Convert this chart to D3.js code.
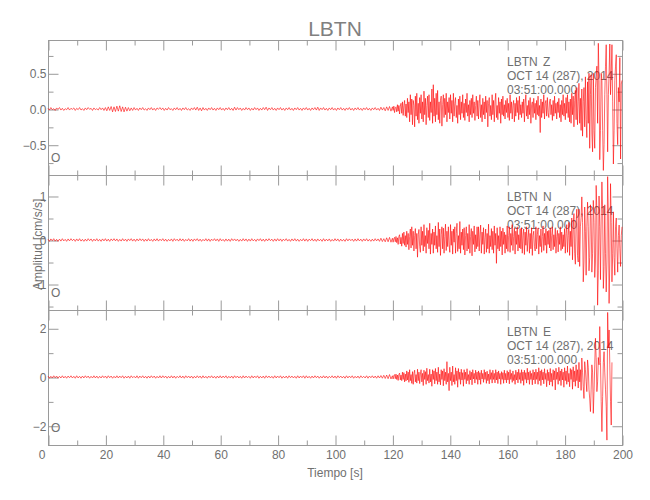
<!DOCTYPE html>
<html><head><meta charset="utf-8">
<script src="https://cdn.jsdelivr.net/npm/d3@7"></script>
<style>
body{margin:0;background:#fff;}
svg text{font-family:"Liberation Sans",Arial,sans-serif;fill:#707070;}
</style></head><body>
<svg id="chart" width="650" height="500"></svg>
<script>
// ---------------- data ----------------
const station = "LBTN";
const components = ["Z", "N", "E"];
const dateLabel = "OCT 14 (287), 2014";
const timeLabel = "03:51:00.000";
const markerLabel = "O";
const xTitle = "Tiempo [s]";
const yTitle = "Amplitud [cm/s/s]";

// pre-event samples: every 0.5 s from 0 s; event samples: every 0.25 s from 120 s
const quietStep = 0.5;
const activeStart = 120;
const activeStep = 0.25;

const timeTicks = [0, 20, 40, 60, 80, 100, 120, 140, 160, 180, 200];
const timeMinorTicks = [10, 30, 50, 70, 90, 110, 130, 150, 170, 190];
const timeDomain = [0, 200];

const yTicksZ = [-0.5, 0, 0.5];
const yMinorZ = [-0.75, -0.25, 0.25, 0.75];
const yDomainZ = [-0.924, 0.966];
const yTicksN = [-1, 0, 1];
const yMinorN = [-1.5, -0.5, 0.5];
const yDomainN = [-1.59, 1.477];
const yTicksE = [-2, 0, 2];
const yMinorE = [-1, 1];
const yDomainE = [-2.79, 2.75];

const quietZ = [
 .01,-.015,.02,-.01,.005,-.02,.015,-.005,.02,-.015,.01,-.02,.005,-.01,.02,-.015,.01,-.005,.015,-.02,
 .01,-.01,.02,-.015,.005,-.02,.015,-.01,.02,-.005,.01,-.02,.015,-.01,.005,-.015,.02,-.01,.015,-.02,
 .02,-.025,.03,-.02,.035,-.04,.03,-.035,.04,-.03,.045,-.035,.03,-.04,.025,-.03,.02,-.025,.015,-.02,
 .02,-.015,.01,-.02,.015,-.01,.02,-.015,.005,-.02,.015,-.01,.02,-.015,.01,-.02,.015,-.005,.02,-.01,
 .015,-.02,.01,-.015,.02,-.01,.005,-.02,.015,-.01,.02,-.015,.01,-.02,.015,-.01,.02,-.015,.005,-.02,
 .015,-.01,.02,-.015,.025,-.02,.015,-.025,.02,-.015,.01,-.02,.015,-.01,.02,-.015,.01,-.02,.015,-.01,
 .02,-.015,.01,-.02,.015,-.01,.02,-.015,.01,-.02,.025,-.015,.02,-.01,.015,-.02,.01,-.015,.02,-.01,
 .015,-.02,.01,-.015,.02,-.01,.015,-.02,.01,-.015,.02,-.01,.025,-.02,.015,-.01,.02,-.015,.01,-.02,
 .015,-.01,.02,-.015,.01,-.02,.015,-.01,.02,-.015,.01,-.02,.015,-.01,.02,-.015,.01,-.02,.015,-.01,
 .02,-.015,.01,-.02,.015,-.01,.02,-.015,.025,-.02,.015,-.01,.02,-.015,.01,-.02,.015,-.01,.02,-.015,
 .01,-.02,.015,-.01,.02,-.015,.01,-.02,.015,-.01,.02,-.015,.01,-.02,.015,-.01,.02,-.015,.01,-.02,
 .015,-.01,.02,-.015,.01,-.02,.015,-.01,.02,-.015,.01,-.02,.025,-.015,.02,-.025,.03,-.02,.035,-.03
];
const activeZ = [
 .03,-.02,.04,-.05,.02,.03,-.04,.06,-.03,.05,-.07,.04,.08,-.06,.1,-.09,.05,.12,-.1,.07,
 -.12,.15,-.05,.1,-.18,.2,-.08,.14,-.22,.12,.05,-.25,.18,-.1,.22,-.15,.08,-.2,.16,-.06,
 .2,-.14,.1,-.18,.25,-.08,.15,-.22,.05,.18,-.12,.2,-.16,.1,-.05,.28,-.2,.34,-.1,.15,
 -.18,.22,-.08,.26,-.15,.1,-.2,.12,.18,-.24,.06,.2,-.12,.15,-.08,.22,-.18,.1,-.05,.16,
 -.14,.2,-.06,.12,-.18,.22,-.1,.08,.16,-.12,.05,-.2,.14,-.08,.18,-.15,.1,-.06,.2,-.12,
 .08,-.16,.14,-.05,.22,-.1,.06,-.18,.12,-.08,.15,-.12,.2,-.06,.1,-.16,.05,.18,-.1,.12,
 -.14,.08,.2,-.12,.06,-.18,.15,-.08,.1,-.14,.18,-.05,.12,-.25,.08,.16,-.1,.05,-.15,.2,
 -.08,.12,-.18,.1,.22,-.12,.05,-.15,.16,-.06,.1,-.2,.14,-.08,.18,-.1,.06,-.14,.12,-.05,
 .15,-.12,.08,-.16,.2,-.06,.1,-.14,.05,.12,-.18,.08,-.1,.16,-.05,.12,-.15,.18,-.08,.06,
 -.12,.1,-.06,.14,-.18,.08,.2,-.1,.05,-.14,.12,-.08,.16,-.2,.06,.1,-.12,.15,-.06,.08,
 -.15,.12,-.08,.18,-.1,.05,-.33,.14,-.12,.1,-.06,.2,-.14,.08,.12,-.1,.16,-.05,-.12,.1,
 .14,-.08,.06,-.16,.12,-.1,.18,-.06,.08,-.14,.1,-.05,.15,-.12,.06,-.18,.12,-.08,.2,-.1,
 .08,-.15,.16,-.06,.2,-.12,.1,-.18,.14,-.2,.22,-.08,.18,-.25,.12,.26,-.15,.3,-.22,.1,
 .36,-.2,.15,-.3,.28,-.38,.1,.3,-.25,.45,-.15,-.4,.38,-.2,.5,-.55,.2,.48,-.35,-.6,
 .5,-.3,-.55,.3,.45,.6,-.2,.92,.4,-.71,-.3,.5,.4,-.3,-.86,-.5,.2,.6,.9,.2,
 -.6,.2,.5,.91,.2,.5,.9,.1,-.77,-.3,.4,.6,.76,-.2,-.5,.3,.1,.72,-.7,.35,
 .4
];

const quietN = [
 .02,-.03,.025,-.015,.03,-.025,.015,-.03,.02,-.025,.03,-.02,.015,-.03,.025,-.02,.03,-.015,.02,-.03,
 .025,-.02,.03,-.025,.015,-.03,.02,-.025,.03,-.015,.025,-.03,.02,-.02,.03,-.025,.015,-.03,.025,-.02,
 .03,-.025,.02,-.03,.025,-.015,.03,-.02,.025,-.03,.015,-.025,.03,-.02,.02,-.03,.025,-.015,.03,-.025,
 .02,-.03,.025,-.02,.03,-.015,.025,-.03,.02,-.025,.03,-.02,.015,-.03,.025,-.02,.03,-.025,.02,-.015,
 .03,-.025,.02,-.03,.015,-.02,.025,-.03,.03,-.015,.02,-.025,.03,-.02,.025,-.03,.015,-.02,.03,-.025,
 .02,-.03,.025,-.015,.03,-.025,.02,-.03,.015,-.02,.03,-.025,.025,-.03,.02,-.015,.03,-.02,.025,-.03,
 .03,-.02,.015,-.03,.025,-.025,.02,-.03,.03,-.015,.025,-.02,.02,-.03,.015,-.025,.03,-.02,.025,-.03,
 .02,-.025,.03,-.02,.015,-.03,.025,-.015,.03,-.025,.02,-.03,.025,-.02,.03,-.015,.02,-.03,.025,-.025,
 .03,-.02,.025,-.03,.02,-.015,.03,-.025,.015,-.03,.025,-.02,.03,-.025,.02,-.03,.015,-.02,.03,-.025,
 .025,-.03,.02,-.015,.03,-.025,.02,-.03,.025,-.02,.015,-.03,.03,-.025,.02,-.02,.025,-.03,.015,-.025,
 .03,-.02,.025,-.03,.02,-.025,.015,-.03,.03,-.02,.025,-.015,.02,-.03,.025,-.025,.03,-.02,.02,-.03,
 .025,-.02,.03,-.025,.015,-.03,.02,-.025,.03,-.02,.025,-.03,.04,-.035,.03,-.04,.05,-.04,.06,-.05
];
const activeN = [
 .04,-.05,.03,.06,-.04,.08,-.06,.05,-.1,.08,.12,-.09,.06,-.14,.15,-.08,.18,-.12,.1,-.16,
 .2,-.1,.15,-.22,.08,.25,-.18,.3,-.12,.2,-.25,.1,.26,-.2,.15,-.39,.12,.24,-.15,-.28,
 .3,-.12,.2,-.25,.35,-.15,.1,-.3,.28,-.08,.22,-.2,.38,-.32,.15,-.1,.25,-.3,.18,-.12,
 .32,-.2,.1,-.28,.4,-.15,.25,-.35,.12,.3,-.2,.27,-.3,.08,.36,-.24,.2,-.15,.3,-.1,
 -.28,.35,-.12,.2,-.32,.25,-.05,.3,-.3,.15,.38,-.26,.1,-.2,.42,-.3,.18,-.12,.25,-.22,
 .28,-.34,.1,.3,-.25,.15,-.2,.35,-.3,.08,.26,-.36,.2,-.1,.32,-.27,.12,-.2,.3,-.15,
 .3,-.25,.12,.34,-.3,.18,-.1,.28,-.32,.05,.25,-.28,.15,-.2,.36,-.3,.1,-.15,.26,-.22,
 .2,-.3,.32,-.12,.15,-.53,.28,-.2,.1,-.25,.3,-.15,.2,-.34,.27,-.1,.18,-.3,.12,-.2,
 .32,-.26,.1,.3,-.28,.15,-.12,.35,-.24,.08,.27,-.32,.2,-.1,.3,-.25,.12,-.18,.26,-.2,
 .28,-.3,.1,.25,-.33,.18,-.12,.3,-.26,.05,.24,-.3,.15,-.2,.28,-.35,.1,.2,-.15,-.25,
 .3,-.2,.12,.27,-.32,.1,-.15,.25,-.28,.08,.32,-.24,.15,-.12,.26,-.3,.2,-.1,.22,-.18,
 .28,-.25,.1,.3,-.22,.12,-.15,.25,-.3,.08,.22,-.27,.15,-.1,.3,-.24,.18,-.2,.12,-.15,
 .26,-.3,.15,.35,-.28,.1,.4,-.35,.2,-.15,.5,-.45,.25,.6,-.3,-.55,.4,.7,-.35,-.5,
 .7,-.6,.3,.5,.98,.4,-.95,-.5,.75,.2,-.8,.3,.86,.3,-.7,-.4,.8,.5,-.73,-.3,
 .9,.4,-.85,-.5,1.24,.6,-1.48,-.7,1.0,.3,-.9,.5,1.32,.7,-1.1,-.6,.8,-.3,-1.18,-.5,
 1.44,.6,-1.44,-.5,1.28,.4,-.95,-.3,.64,-.4,-.8,.3,.5,-.2,-.73,.1,.34,-.2,-.6,.1,
 .3
];

const quietE = [
 .04,-.05,.03,-.04,.05,-.03,.04,-.05,.03,-.04,.05,-.04,.03,-.05,.04,-.03,.05,-.04,.03,-.05,
 .05,-.04,.03,-.05,.04,-.04,.05,-.03,.04,-.05,.03,-.04,.05,-.04,.04,-.05,.03,-.04,.05,-.03,
 .04,-.05,.05,-.03,.04,-.05,.03,-.04,.05,-.04,.04,-.03,.05,-.05,.03,-.04,.04,-.05,.05,-.03,
 .03,-.04,.05,-.05,.04,-.03,.05,-.04,.03,-.05,.04,-.04,.05,-.03,.04,-.05,.03,-.04,.05,-.04,
 .05,-.03,.04,-.05,.03,-.04,.05,-.04,.04,-.05,.03,-.03,.05,-.04,.04,-.05,.05,-.03,.04,-.04,
 .04,-.05,.03,-.04,.05,-.03,.04,-.05,.05,-.04,.03,-.05,.04,-.03,.05,-.04,.03,-.05,.04,-.04,
 .05,-.04,.04,-.03,.05,-.05,.03,-.04,.04,-.05,.05,-.03,.04,-.04,.03,-.05,.05,-.04,.04,-.03,
 .03,-.05,.05,-.04,.04,-.03,.05,-.05,.03,-.04,.04,-.05,.05,-.03,.04,-.04,.03,-.05,.05,-.04,
 .04,-.03,.05,-.05,.03,-.04,.04,-.05,.05,-.03,.04,-.04,.03,-.05,.05,-.04,.04,-.03,.05,-.05,
 .05,-.04,.03,-.05,.04,-.04,.05,-.03,.04,-.05,.03,-.04,.05,-.04,.04,-.05,.03,-.03,.05,-.04,
 .04,-.05,.05,-.03,.04,-.04,.03,-.05,.05,-.04,.04,-.03,.05,-.05,.03,-.04,.04,-.05,.05,-.03,
 .03,-.04,.05,-.05,.04,-.03,.05,-.04,.04,-.05,.05,-.04,.06,-.05,.07,-.06,.08,-.07,.1,-.08
];
const activeE = [
 .05,-.08,.06,.1,-.07,.12,-.1,.08,-.14,.1,.16,-.12,.08,-.15,.2,-.1,.18,-.2,.12,-.16,
 .25,-.12,.2,-.22,.3,-.15,.1,-.26,.22,-.3,.15,.28,-.2,.1,-.25,.32,-.15,.2,-.27,.12,
 .3,-.2,.15,-.35,.28,-.1,.22,-.3,.36,-.15,.1,-.25,.32,-.2,.12,-.38,.3,-.1,.25,-.28,
 .35,-.15,.2,-.3,.4,-.2,.12,-.32,.3,-.1,.25,-.36,.34,-.15,.2,-.3,.63,-.2,.15,-.56,
 .4,-.15,.2,-.35,.45,-.2,.1,-.3,.38,-.15,.25,-.42,.35,-.1,.2,-.3,.32,-.12,.18,-.38,
 .3,-.1,.2,-.28,.34,-.15,.1,-.3,.26,-.12,.2,-.32,.3,-.08,.15,-.25,.28,-.1,.2,-.3,
 .25,-.12,.18,-.3,.28,-.08,.15,-.22,.3,-.1,.2,-.26,.24,-.15,.12,-.28,.3,-.1,.18,-.25,
 .28,-.1,.15,-.24,.3,-.12,.2,-.27,.25,-.08,.15,-.3,.22,-.1,.18,-.26,.28,-.12,.15,-.24,
 .26,-.12,.2,-.28,.3,-.1,.15,-.22,.25,-.15,.1,-.3,.28,-.12,.2,-.24,.32,-.1,.18,-.26,
 .3,-.15,.2,-.34,.28,-.1,.18,-.25,.36,-.12,.2,-.3,.26,-.1,.15,-.32,.3,-.12,.2,-.28,
 .32,-.1,.2,-.3,.38,-.15,.25,-.35,.3,-.12,.2,-.28,.34,-.1,.15,-.4,.3,-.15,.2,-.33,
 .35,-.2,.15,-.38,.3,-.12,.25,-.53,.36,-.1,.2,-.3,.4,-.15,.25,-.35,.33,-.12,.2,-.42,
 .38,-.15,.25,-.3,.45,-.2,.15,-.4,.35,-.1,.3,-.5,.42,-.2,.25,-.38,.5,-.15,.3,-.45,
 .6,-.2,.3,-.55,.78,.2,-.4,-.88,.63,.3,-.19,-.6,.7,.4,-.5,-.9,-1.42,-.5,.5,.2,
 -1.49,-.6,.5,1.59,.8,-.6,-.2,.8,.5,2.07,.6,-1.0,-2.24,-.8,.6,1.04,.2,-.5,-1.2,-2.59,
 2.65,1.2,1.93,.5,-1.0,-1.97,.6
];

// ---------------- drawing ----------------
const svg = d3.select("#chart");
const plotLeft = 48, plotRight = 622, plotTop = 40, panelH = 135;
const frameColor = "#9a9a9a";
const traceColor = "#ff0000";

const x = d3.scaleLinear().domain(timeDomain).range([plotLeft, plotRight]);

function toSeries(quiet, active) {
  return quiet.map((v, k) => ({t: k * quietStep, v}))
    .concat(active.map((v, k) => ({t: activeStart + k * activeStep, v})));
}

const panels = [
  {comp: components[0], data: toSeries(quietZ, activeZ), ticks: yTicksZ, minor: yMinorZ, domain: yDomainZ, fmt: d3.format(".1f")},
  {comp: components[1], data: toSeries(quietN, activeN), ticks: yTicksN, minor: yMinorN, domain: yDomainN, fmt: d3.format("d")},
  {comp: components[2], data: toSeries(quietE, activeE), ticks: yTicksE, minor: yMinorE, domain: yDomainE, fmt: d3.format("d")}
];

function styleAxis(g) {
  g.select(".domain").remove();
  g.selectAll(".tick line").attr("stroke", frameColor).attr("stroke-width", 1);
  g.selectAll(".tick text").attr("fill", "#707070").style("font-size", "12px");
}

// title
svg.append("text").attr("x", (plotLeft + plotRight) / 2).attr("y", 36)
  .attr("text-anchor", "middle").style("font-size", "21px").attr("fill", "#808080").style("fill", "#808080").text(station);

const traceLayer = [];

panels.forEach((p, i) => {
  const top = plotTop + i * panelH, bottom = top + panelH;
  const y = d3.scaleLinear().domain(p.domain).range([bottom, top]);
  const g = svg.append("g");

  g.append("rect").attr("x", plotLeft + 0.5).attr("y", top + 0.5)
    .attr("width", plotRight - plotLeft).attr("height", panelH)
    .attr("fill", "none").attr("stroke", frameColor).attr("stroke-width", 1);

  const showLabels = i === panels.length - 1;
  const xb = g.append("g").attr("transform", `translate(0.5,${bottom + 0.5})`)
    .call(d3.axisBottom(x).tickValues(timeTicks).tickSize(-10).tickPadding(5)
      .tickFormat(showLabels ? d3.format("d") : () => ""));
  styleAxis(xb);
  if (showLabels) xb.selectAll(".tick text").filter(d => d === 0).attr("x", -7);
  styleAxis(g.append("g").attr("transform", `translate(0.5,${bottom + 0.5})`)
    .call(d3.axisBottom(x).tickValues(timeMinorTicks).tickSize(-5).tickFormat(() => "")));
  styleAxis(g.append("g").attr("transform", `translate(0.5,${top + 0.5})`)
    .call(d3.axisTop(x).tickValues(timeTicks).tickSize(-10).tickFormat(() => "")));
  styleAxis(g.append("g").attr("transform", `translate(0.5,${top + 0.5})`)
    .call(d3.axisTop(x).tickValues(timeMinorTicks).tickSize(-5).tickFormat(() => "")));

  styleAxis(g.append("g").attr("transform", `translate(${plotLeft + 0.5},0.5)`)
    .call(d3.axisLeft(y).tickValues(p.ticks).tickSize(-10).tickPadding(2).tickFormat(p.fmt)));
  styleAxis(g.append("g").attr("transform", `translate(${plotLeft + 0.5},0.5)`)
    .call(d3.axisLeft(y).tickValues(p.minor).tickSize(-5).tickFormat(() => "")));
  styleAxis(g.append("g").attr("transform", `translate(${plotRight + 0.5},0.5)`)
    .call(d3.axisRight(y).tickValues(p.ticks).tickSize(-10).tickFormat(() => "")));
  styleAxis(g.append("g").attr("transform", `translate(${plotRight + 0.5},0.5)`)
    .call(d3.axisRight(y).tickValues(p.minor).tickSize(-5).tickFormat(() => "")));

  const tx = 507;
  g.append("text").attr("x", tx).attr("y", top + 26).style("font-size", "12px").text(station);
  g.append("text").attr("x", tx + 36).attr("y", top + 26).style("font-size", "12px").text(p.comp);
  g.append("text").attr("x", tx).attr("y", top + 40).style("font-size", "12px").text(dateLabel);
  g.append("text").attr("x", tx).attr("y", top + 54).style("font-size", "12px").text(timeLabel);

  g.append("text").attr("x", 51).attr("y", top + 121.5).style("font-size", "12px").text(markerLabel);

  traceLayer.push({p, y});
});

traceLayer.forEach(({p, y}) => {
  const line = d3.line().x(d => x(d.t)).y(d => y(d.v));
  svg.append("path").datum(p.data).attr("d", line)
    .attr("fill", "none").attr("stroke", traceColor).attr("stroke-width", 0.6);
});

svg.append("text").attr("x", (plotLeft + plotRight) / 2).attr("y", 476.5)
  .attr("text-anchor", "middle").style("font-size", "12px").text(xTitle);
svg.append("text").attr("transform", "translate(42,290) rotate(-90)")
  .style("font-size", "12px").text(yTitle);
</script>
</body></html>
